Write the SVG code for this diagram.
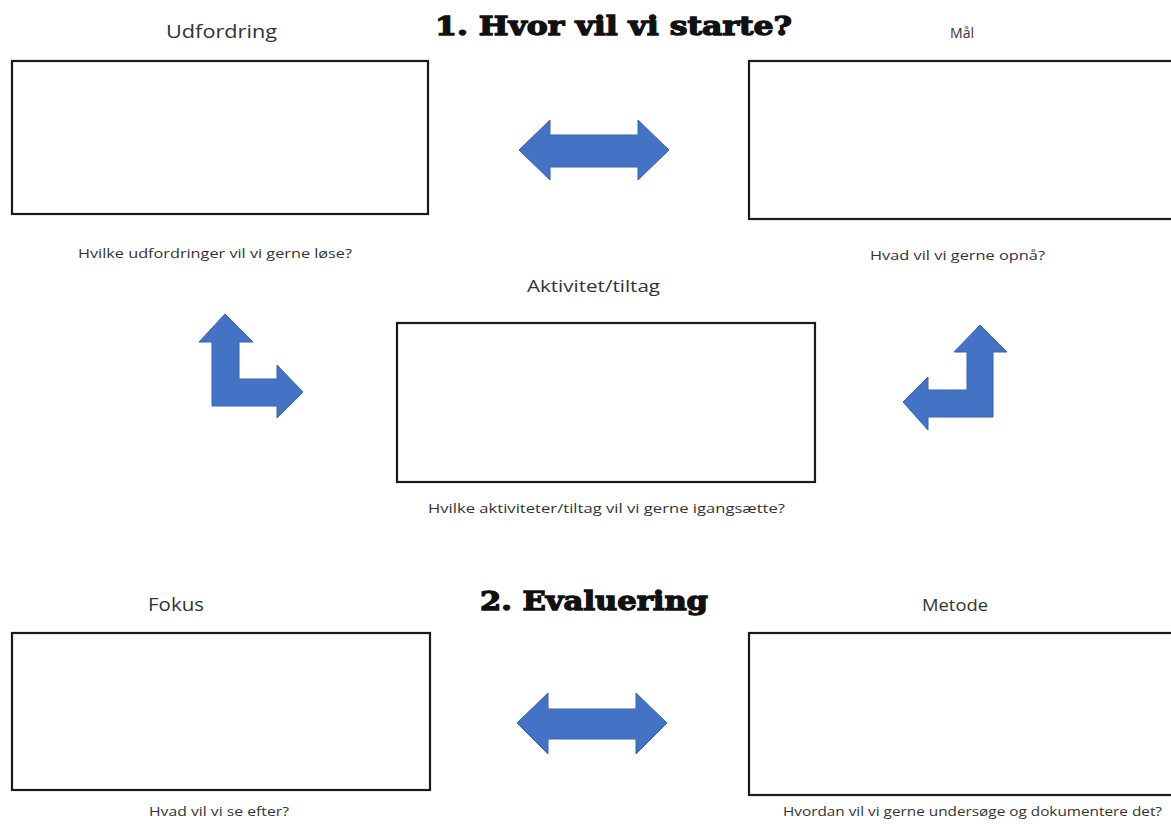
<svg xmlns="http://www.w3.org/2000/svg" width="1171" height="827" viewBox="0 0 1171 827">
<style>
.box{fill:#fff;stroke:#1a1a1a;stroke-width:2.2}
.lbl{font-family:"Open Sans","Noto Sans",sans-serif;fill:#333;text-anchor:start}
.h{font-size:18px}
.s{font-size:13px}
.title{font-family:"DejaVu Serif","Liberation Serif",serif;font-weight:bold;font-size:26px;fill:#111;stroke:#111;stroke-width:1.3}
.arr{fill:#4472C4;stroke:#3a63ad;stroke-width:1}
</style>
<rect width="1171" height="827" fill="#fff"/>
<text class="title" x="435" y="35" textLength="357" lengthAdjust="spacingAndGlyphs">1. Hvor vil vi starte?</text>
<text class="title" x="480" y="610" textLength="228" lengthAdjust="spacingAndGlyphs">2. Evaluering</text>
<g id="udfordring">
<text class="lbl h" x="166" y="38" textLength="111" lengthAdjust="spacingAndGlyphs">Udfordring</text>
<rect class="box" x="12" y="61" width="416" height="153"/>
<text class="lbl s" x="78" y="258" textLength="274" lengthAdjust="spacingAndGlyphs">Hvilke udfordringer vil vi gerne løse?</text>
</g>
<g id="maal">
<text class="lbl" style="font-size:14px" x="950" y="38" textLength="24" lengthAdjust="spacingAndGlyphs">Mål</text>
<rect class="box" x="749" y="61" width="425" height="158"/>
<text class="lbl s" x="870" y="260" textLength="175" lengthAdjust="spacingAndGlyphs">Hvad vil vi gerne opnå?</text>
</g>
<g id="aktivitet">
<text class="lbl" style="font-size:17px" x="527" y="292" textLength="133" lengthAdjust="spacingAndGlyphs">Aktivitet/tiltag</text>
<rect class="box" x="397" y="323" width="418" height="159"/>
<text class="lbl s" x="428" y="513" textLength="357" lengthAdjust="spacingAndGlyphs">Hvilke aktiviteter/tiltag vil vi gerne igangsætte?</text>
</g>
<g id="fokus">
<text class="lbl h" x="148" y="611" textLength="56" lengthAdjust="spacingAndGlyphs">Fokus</text>
<rect class="box" x="12" y="633" width="418" height="157"/>
<text class="lbl s" x="149" y="816" textLength="140" lengthAdjust="spacingAndGlyphs">Hvad vil vi se efter?</text>
</g>
<g id="metode">
<text class="lbl" style="font-size:17px" x="922" y="611" textLength="66" lengthAdjust="spacingAndGlyphs">Metode</text>
<rect class="box" x="749" y="633" width="425" height="162"/>
<text class="lbl s" x="783" y="816" textLength="379" lengthAdjust="spacingAndGlyphs">Hvordan vil vi gerne undersøge og dokumentere det?</text>
</g>
<g id="connectors">
<polygon class="arr" points="519,150 550,120 550,135 638,135 638,120 669,150 638,180 638,167 550,167 550,180"/>
<polygon class="arr" points="517,723 548,693 548,709 636,709 636,693 667,723 636,754 636,739 548,739 548,754"/>
<polygon class="arr" points="225,314 253,342 239,342 239,379 277,379 277,365 303,392 277,418 277,406 212,406 212,342 199,342"/>
<polygon class="arr" points="980,325 1007,352 993,352 993,417 928,417 928,430 903,402 928,377 928,390 967,390 967,352 954,352"/>
</g>
</svg>
